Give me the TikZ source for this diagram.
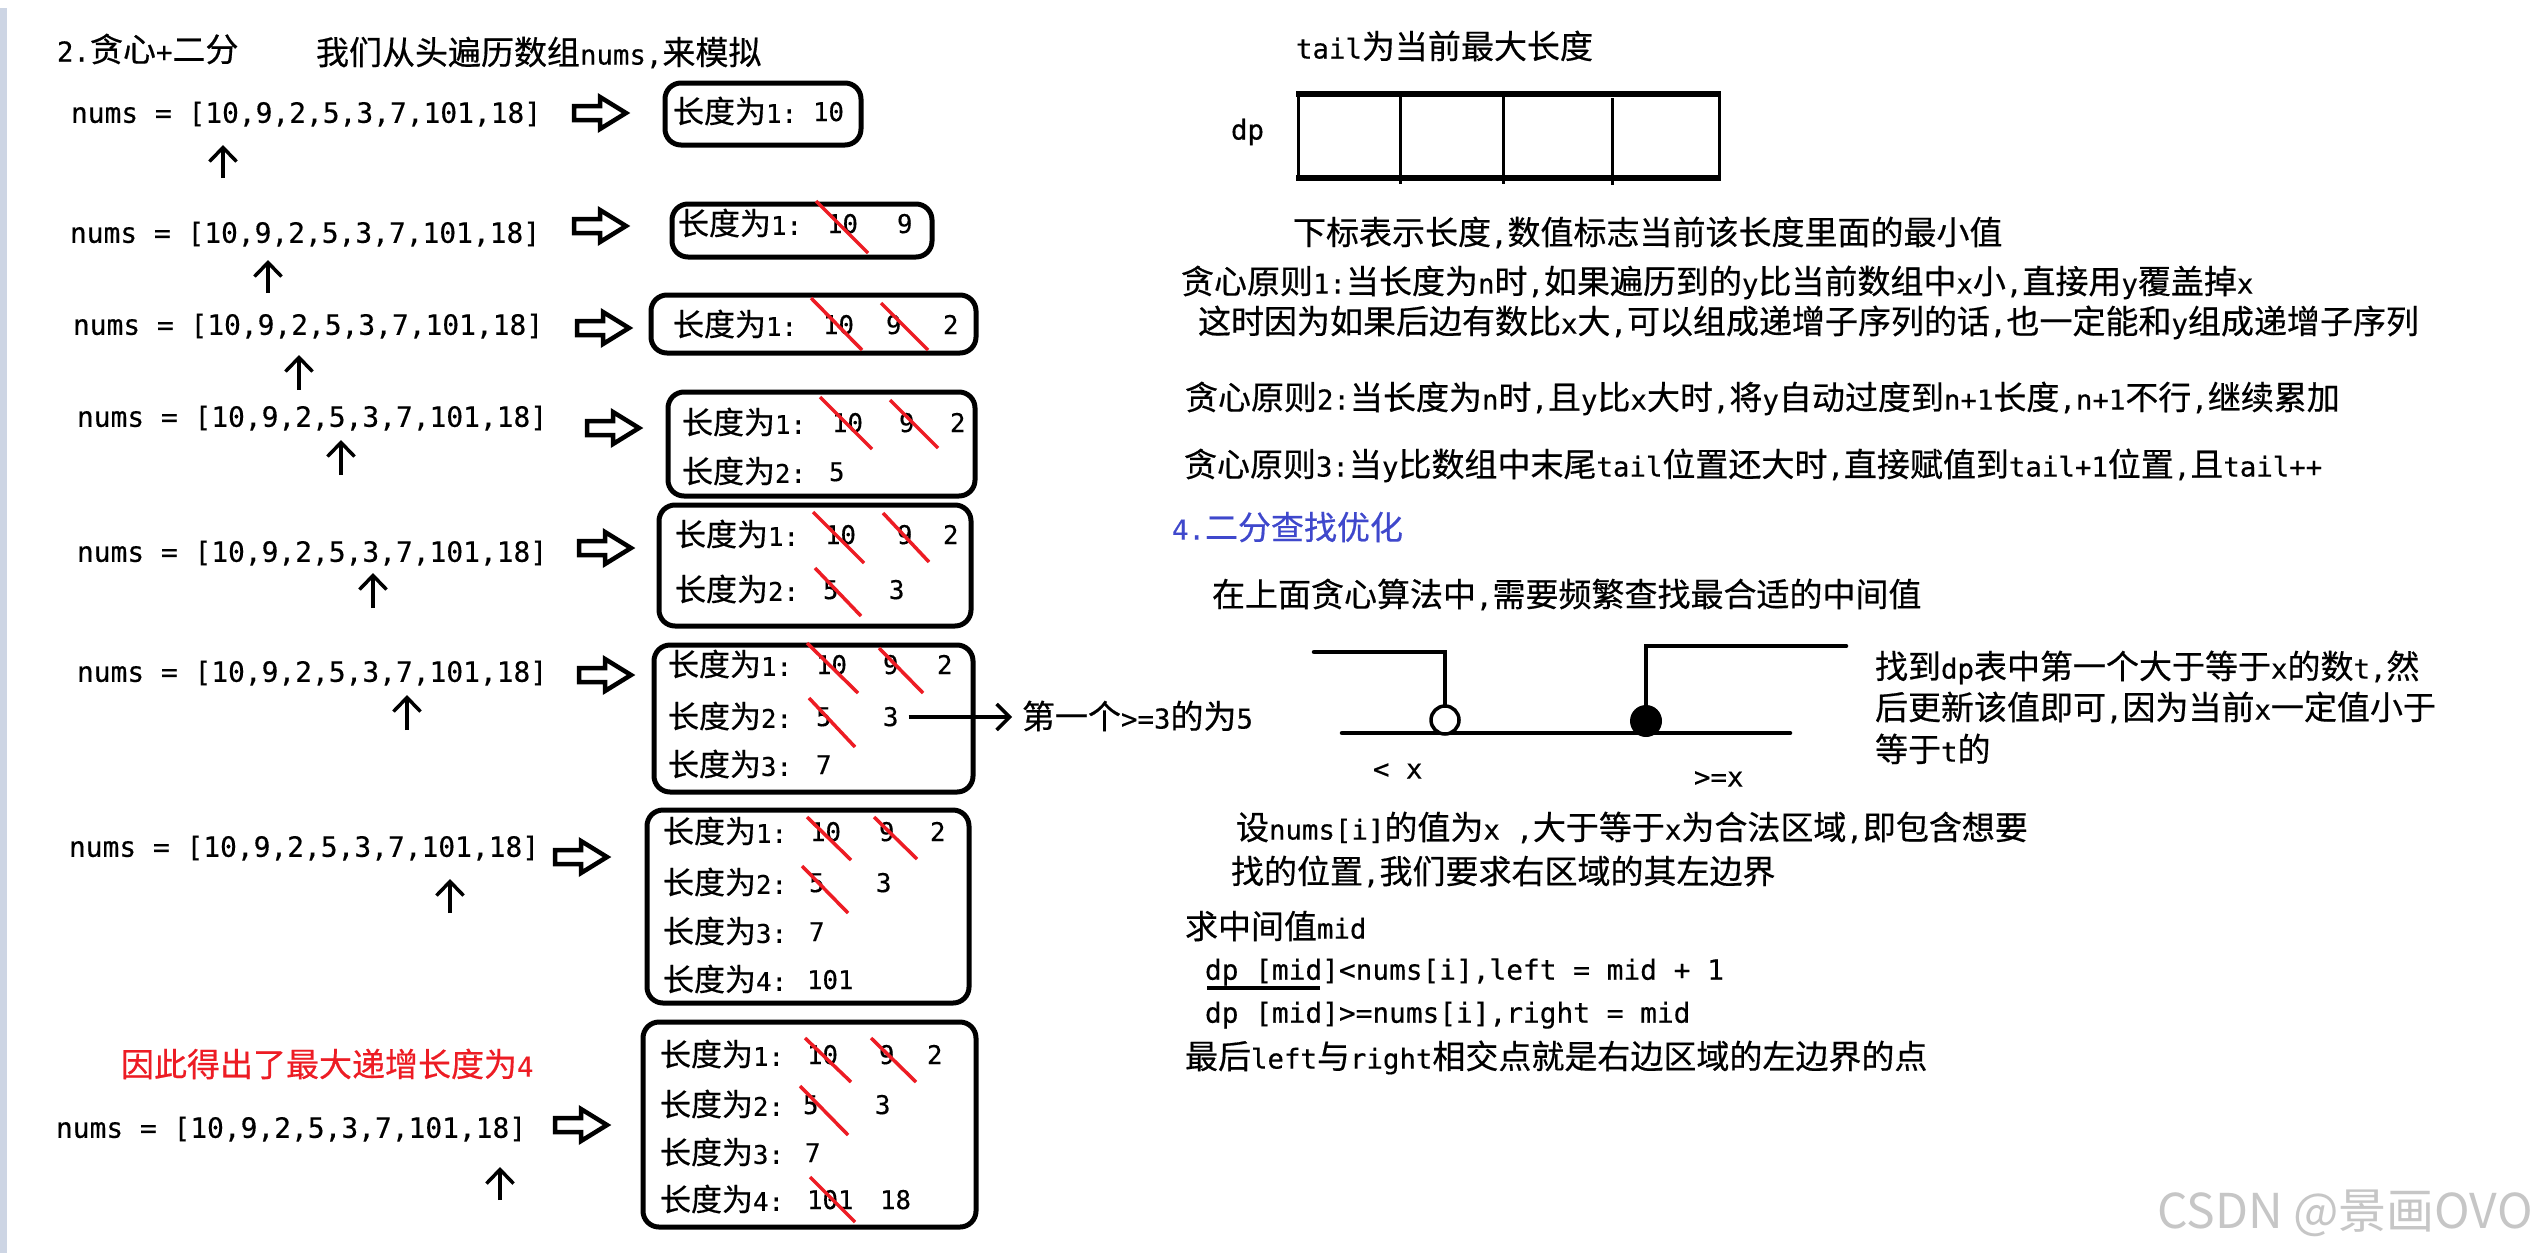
\documentclass[tikz,border=0pt]{standalone}
\usepackage{fontspec}
\setmainfont{Noto Sans CJK SC}[FakeBold=0.5]
\newfontfamily\monof{DejaVu Sans Mono}[Scale=0.83, FakeBold=0.4]
\newfontfamily\wmfont{Noto Sans CJK SC}
\newcommand\hw[1]{{\monof #1}}
\usetikzlibrary{arrows.meta}
\definecolor{pred}{RGB}{237,28,36}
\definecolor{pblue}{RGB}{63,72,204}
\definecolor{stripc}{RGB}{205,213,228}
\definecolor{wmgray}{RGB}{198,198,198}
\tikzset{
  every node/.style={inner sep=0pt, outer sep=0pt, anchor=west},
  cj/.style={font=\fontsize{33}{40}\selectfont, text height=28.05pt, text depth=4.95pt},
  bx/.style={font=\fontsize{31}{38}\selectfont, text height=26.35pt, text depth=4.65pt},
  bv/.style={font=\fontsize{31}{38}\selectfont\monof, text height=21.9pt, text depth=3.9pt},
  nm/.style={font=\fontsize{33.6}{40}\selectfont\monof, text height=23.7pt, text depth=4.2pt},
  ml/.style={font=\fontsize{33.5}{40}\selectfont\monof, text height=23.6pt, text depth=4.2pt},
  frame/.style={draw, line width=5pt, rounded corners=16pt},
  strike/.style={draw=pred, line width=3.5pt},
  up/.style={-{Straight Barb[length=14pt,width=27pt]}, line width=3.5pt},
  conn/.style={-{Straight Barb[length=13pt,width=26pt]}, line width=3.5pt},
  hollow/.style={draw, line width=4.5pt, line join=miter},
  harrow/.pic={\draw[hollow] (0,-7) -- (26,-7) -- (26,-16) -- (52,0) -- (26,16) -- (26,7) -- (0,7) -- cycle;},
  gline/.style={line width=4.5pt, line cap=round},
}
\begin{document}
\begin{tikzpicture}[x=1pt, y=-1pt]
\fill[white] (0,0) rectangle (2534,1253);
\useasboundingbox (0,0) rectangle (2534,1253);
\fill[stripc] (0,8) rectangle (7,1253);

% ---------------- header ----------------
\node[cj] (title) at (57,50) {\hw{2.}贪心\hw{+}二分};
\node[cj] (intro) at (316,53) {我们从头遍历数组\hw{nums,}来模拟};

% ---------------- nums rows ----------------
\node[nm] (n1) at (71,113) {nums = [10,9,2,5,3,7,101,18]};
\node[nm] (n2) at (70,233) {nums = [10,9,2,5,3,7,101,18]};
\node[nm] (n3) at (73,325) {nums = [10,9,2,5,3,7,101,18]};
\node[nm] (n4) at (77,417) {nums = [10,9,2,5,3,7,101,18]};
\node[nm] (n5) at (77,552) {nums = [10,9,2,5,3,7,101,18]};
\node[nm] (n6) at (77,672) {nums = [10,9,2,5,3,7,101,18]};
\node[nm] (n7) at (69,847) {nums = [10,9,2,5,3,7,101,18]};
\node[nm] (n8) at (56,1128) {nums = [10,9,2,5,3,7,101,18]};

% up arrows
\coordinate (ua1) at (223,178); \coordinate (ub1) at (223,145);
\coordinate (ua2) at (268,293); \coordinate (ub2) at (268,260);
\coordinate (ua3) at (299,390); \coordinate (ub3) at (299,355);
\coordinate (ua4) at (341,475); \coordinate (ub4) at (341,440);
\coordinate (ua5) at (373,608); \coordinate (ub5) at (373,573);
\coordinate (ua6) at (407,730); \coordinate (ub6) at (407,695);
\coordinate (ua7) at (450,913); \coordinate (ub7) at (450,879);
\coordinate (ua8) at (500,1200); \coordinate (ub8) at (500,1167);
\foreach \i in {1,...,8} {\draw[up] (ua\i) -- (ub\i);}

% hollow arrows
\pic at (574,113) {harrow};
\pic at (574,226) {harrow};
\pic at (577,328) {harrow};
\pic at (587,428) {harrow};
\pic at (579,548) {harrow};
\pic at (579,675) {harrow};
\pic at (555,857) {harrow};
\pic at (555,1125) {harrow};

% ---------------- boxes ----------------
% B1
\draw[frame] (665,83) rectangle (861,145);
\node[bx] (b1r1) at (673,112) {长度为\hw{1:}};
\node[bv] (b1a) at (813,112) {10};
% B2
\draw[frame] (672,204) rectangle (932,257);
\node[bx] (b2r1) at (678,224) {长度为\hw{1:}};
\node[bv] (b2a) at (827,224) {10};
\node[bv] (b2b) at (897,224) {9};
\draw[strike] (816,201) -- (868,253);
% B3
\draw[frame] (651,295) rectangle (976,353);
\node[bx] (b3r1) at (673,325) {长度为\hw{1:}};
\node[bv] (b3a) at (823,325) {10};
\node[bv] (b3b) at (886,325) {9};
\node[bv] (b3c) at (943,325) {2};
\draw[strike] (811,298) -- (862,350);
\draw[strike] (881,303) -- (928,350);
% B4
\draw[frame] (668,392) rectangle (975,496);
\node[bx] (b4r1) at (682,423) {长度为\hw{1:}};
\node[bv] (b4a) at (832,423) {10};
\node[bv] (b4b) at (899,423) {9};
\node[bv] (b4c) at (950,423) {2};
\node[bx] (b4r2) at (682,472) {长度为\hw{2:}};
\node[bv] (b4d) at (829,472) {5};
\draw[strike] (820,397) -- (872,449);
\draw[strike] (890,400) -- (938,448);
% B5
\draw[frame] (659,505) rectangle (971,626);
\node[bx] (b5r1) at (675,535) {长度为\hw{1:}};
\node[bv] (b5a) at (825,535) {10};
\node[bv] (b5b) at (897,535) {9};
\node[bv] (b5c) at (943,535) {2};
\node[bx] (b5r2) at (675,590) {长度为\hw{2:}};
\node[bv] (b5d) at (823,590) {5};
\node[bv] (b5e) at (889,590) {3};
\draw[strike] (813,512) -- (864,563);
\draw[strike] (883,513) -- (929,562);
\draw[strike] (815,568) -- (861,616);
% B6
\draw[frame] (654,645) rectangle (973,792);
\node[bx] (b6r1) at (668,665) {长度为\hw{1:}};
\node[bv] (b6a) at (816,665) {10};
\node[bv] (b6b) at (883,665) {9};
\node[bv] (b6c) at (937,665) {2};
\node[bx] (b6r2) at (668,717) {长度为\hw{2:}};
\node[bv] (b6d) at (816,717) {5};
\node[bv] (b6e) at (883,717) {3};
\node[bx] (b6r3) at (668,765) {长度为\hw{3:}};
\node[bv] (b6f) at (816,765) {7};
\draw[strike] (807,643) -- (858,693);
\draw[strike] (879,648) -- (923,693);
\draw[strike] (809,698) -- (855,747);
\node[cj] (first) at (1022,717) {第一个\hw{>=3}的为\hw{5}};
\draw[conn, shorten <=10pt, shorten >=10pt] (b6e.east) -- (first.west);
% B7
\draw[frame] (647,810) rectangle (969,1003);
\node[bx] (b7r1) at (663,832) {长度为\hw{1:}};
\node[bv] (b7a) at (810,832) {10};
\node[bv] (b7b) at (879,832) {9};
\node[bv] (b7c) at (930,832) {2};
\node[bx] (b7r2) at (663,883) {长度为\hw{2:}};
\node[bv] (b7d) at (809,883) {5};
\node[bv] (b7e) at (876,883) {3};
\node[bx] (b7r3) at (663,932) {长度为\hw{3:}};
\node[bv] (b7f) at (809,932) {7};
\node[bx] (b7r4) at (663,980) {长度为\hw{4:}};
\node[bv] (b7g) at (807,980) {101};
\draw[strike] (807,817) -- (851,860);
\draw[strike] (874,817) -- (917,859);
\draw[strike] (802,866) -- (848,913);
% red conclusion
\node[cj, text=pred] (concl) at (121,1065) {因此得出了最大递增长度为\hw{4}};
% B8
\draw[frame] (643,1022) rectangle (976,1227);
\node[bx] (b8r1) at (660,1055) {长度为\hw{1:}};
\node[bv] (b8a) at (807,1055) {10};
\node[bv] (b8b) at (879,1055) {9};
\node[bv] (b8c) at (927,1055) {2};
\node[bx] (b8r2) at (660,1105) {长度为\hw{2:}};
\node[bv] (b8d) at (803,1105) {5};
\node[bv] (b8e) at (875,1105) {3};
\node[bx] (b8r3) at (660,1153) {长度为\hw{3:}};
\node[bv] (b8f) at (805,1153) {7};
\node[bx] (b8r4) at (660,1200) {长度为\hw{4:}};
\node[bv] (b8g) at (807,1200) {101};
\node[bv] (b8h) at (880,1200) {18};
\draw[strike] (805,1038) -- (851,1082);
\draw[strike] (871,1038) -- (916,1082);
\draw[strike] (800,1086) -- (848,1135);
\draw[strike] (810,1177) -- (855,1222);

% ---------------- right side ----------------
\node[cj] (tailt) at (1296,47) {\hw{tail}为当前最大长度};
\node[cj] (dplab) at (1231,128) {\hw{dp}};
\draw[line width=3pt] (1298,94) rectangle (1719,178);
\draw[line width=6pt] (1296,94) -- (1721,94);
\draw[line width=6pt] (1296,178) -- (1721,178);
\draw[line width=3pt] (1400,94) -- (1400,184);
\draw[line width=3pt] (1503,91) -- (1503,184);
\draw[line width=3pt] (1612,98) -- (1612,185);

\node[cj] (t2) at (1293,233) {下标表示长度\hw{,}数值标志当前该长度里面的最小值};
\node[cj] (t3) at (1181,282) {贪心原则\hw{1:}当长度为\hw{n}时\hw{,}如果遍历到的\hw{y}比当前数组中\hw{x}小\hw{,}直接用\hw{y}覆盖掉\hw{x}};
\node[cj] (t4) at (1198,322) {这时因为如果后边有数比\hw{x}大\hw{,}可以组成递增子序列的话\hw{,}也一定能和\hw{y}组成递增子序列};
\node[cj] (t5) at (1185,398) {贪心原则\hw{2:}当长度为\hw{n}时\hw{,}且\hw{y}比\hw{x}大时\hw{,}将\hw{y}自动过度到\hw{n+1}长度\hw{,n+1}不行\hw{,}继续累加};
\node[cj] (t6) at (1184,465) {贪心原则\hw{3:}当\hw{y}比数组中末尾\hw{tail}位置还大时\hw{,}直接赋值到\hw{tail+1}位置\hw{,}且\hw{tail++}};
\node[cj, text=pblue] (t7) at (1172,528) {\hw{4.}二分查找优化};
\node[cj] (t8) at (1212,595) {在上面贪心算法中\hw{,}需要频繁查找最合适的中间值};

% step graph
\draw[gline] (1342,733) -- (1790,733);
\draw[gline] (1314,652) -- (1445,652) -- (1445,706);
\draw[gline] (1846,646) -- (1646,646) -- (1646,706);
\draw[line width=3.5pt, fill=white] (1445,720) circle (14);
\fill (1646,721) circle (16);
\node[cj] (lt) at (1373,767) {\hw{< x}};
\node[cj] (ge) at (1694,775) {\hw{>=x}};

\node[cj] (t9) at (1875,667) {找到\hw{dp}表中第一个大于等于\hw{x}的数\hw{t,}然};
\node[cj] (t10) at (1875,708) {后更新该值即可\hw{,}因为当前\hw{x}一定值小于};
\node[cj] (t11) at (1875,750) {等于\hw{t}的};

\node[cj] (t12) at (1236,828) {设\hw{nums[i]}的值为\hw{x ,}大于等于\hw{x}为合法区域\hw{,}即包含想要};
\node[cj] (t13) at (1231,872) {找的位置\hw{,}我们要求右区域的其左边界};
\node[cj] (t14) at (1185,927) {求中间值\hw{mid}};
\node[ml] (t15) at (1205,970) {dp [mid]<nums[i],left = mid + 1};
\draw[line width=3.5pt] (1207,988) -- (1320,988);
\node[ml] (t16) at (1205,1013) {dp [mid]>=nums[i],right = mid};
\node[cj] (t17) at (1185,1057) {最后\hw{left}与\hw{right}相交点就是右边区域的左边界的点};

% watermark
\node[font=\fontsize{48}{56}\selectfont\wmfont, text=wmgray, text height=40.8pt, text depth=7.2pt] (wm) at (2157,1212) {CSDN @景画OVO};
\end{tikzpicture}
\end{document}
